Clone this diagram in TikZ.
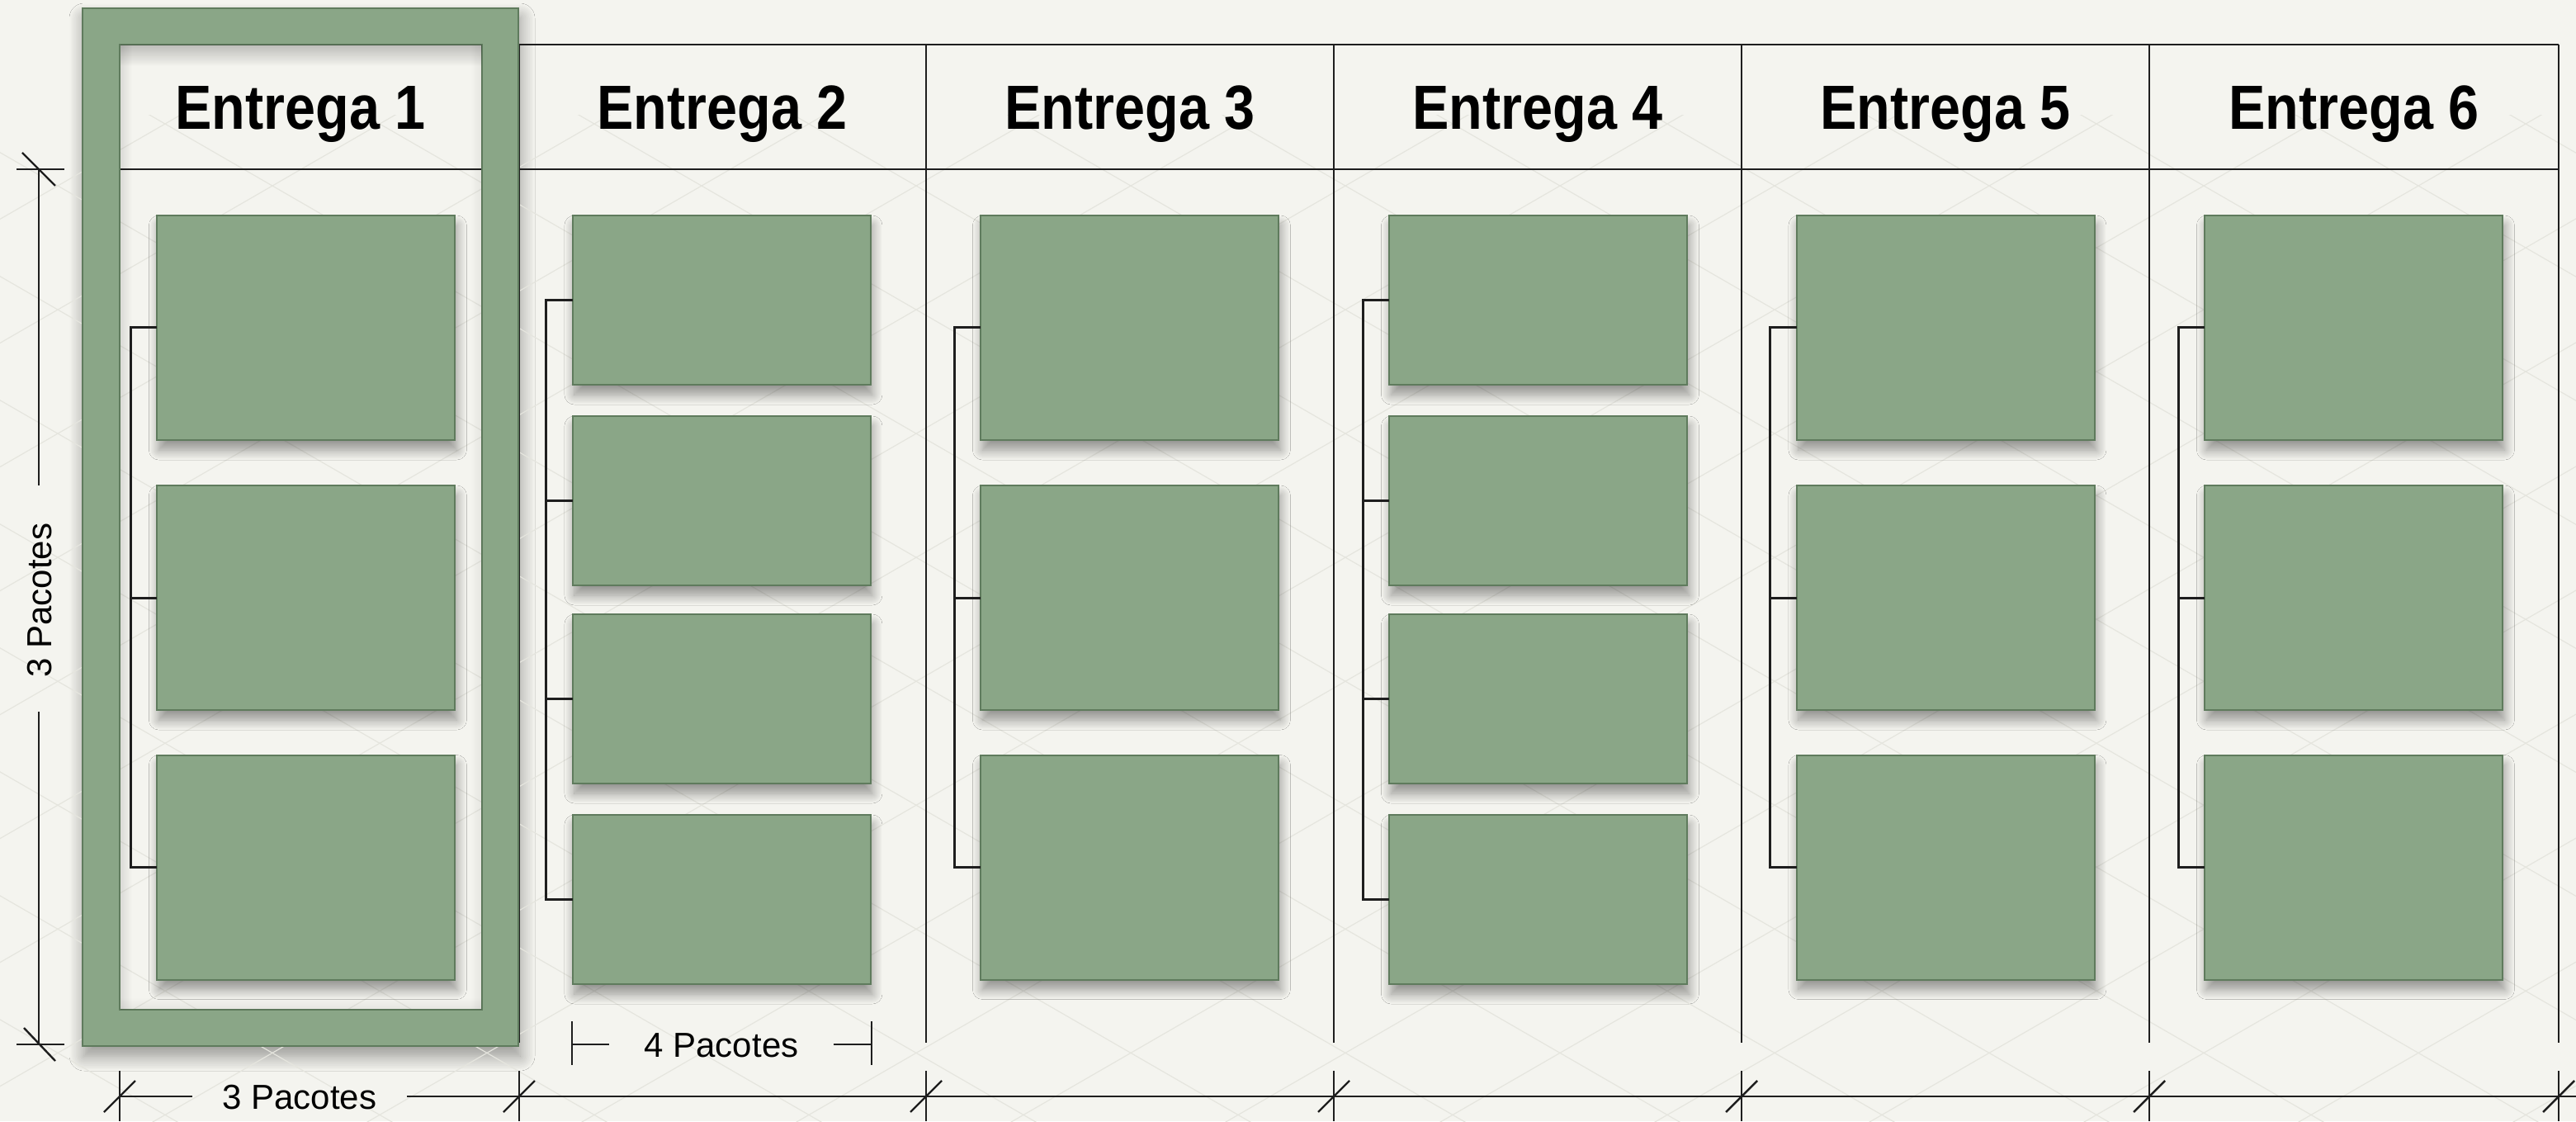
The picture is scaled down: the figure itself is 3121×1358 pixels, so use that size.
\documentclass[tikz,border=0pt]{standalone}
\usepackage{fontspec}
\setmainfont{Liberation Sans}
\usepackage{graphicx}
\usetikzlibrary{shadows.blur,fadings}
\definecolor{bg}{HTML}{F4F4EF}
\definecolor{sage}{HTML}{8AA687}
\definecolor{sagedk}{HTML}{5F7B5D}
\definecolor{ink}{HTML}{1E1E1E}
\definecolor{hatchc}{HTML}{E5E5DE}
\tikzset{
  pkgbox/.style={draw=sagedk, line width=0.5pt, fill=sage, minimum width=90.25pt,
    inner sep=0pt, outer sep=0pt,
    blur shadow={shadow xshift=0.6pt, shadow yshift=-3pt, shadow blur radius=3pt, shadow blur steps=12, shadow opacity=40}},
  pkgbig/.style={pkgbox, minimum height=68pt},
  pkgsmall/.style={pkgbox, minimum height=51.25pt},
  tbl/.style={draw=ink, line width=0.7pt},
  dimline/.style={draw=ink, line width=0.6pt},
  brk/.style={draw=ink, line width=0.75pt},
  hdr/.style={font=\fontsize{18.9pt}{20pt}\selectfont\bfseries, anchor=base, inner sep=0pt},
  dimlbl/.style={font=\fontsize{10.5pt}{12pt}\selectfont, anchor=base, inner sep=0pt},
}
\begin{document}
\begin{tikzpicture}[x=0.25pt, y=-0.25pt]
\useasboundingbox (0,0) rectangle (3121,1358);
\fill[bg] (0,0) rectangle (3121,1358);

% frame shadow
\path[blur shadow={shadow xshift=0.5pt, shadow yshift=-3pt, shadow blur radius=4.5pt, shadow blur steps=12, shadow opacity=40}] (100,10) rectangle (628,1267);
\fill[bg] (145,54) rectangle (584,1223);

% faint hatch
\begin{scope}
\clip (0,140) rectangle (3121,1358);
\foreach \c in {-2400,-2140,...,5600}{
  \draw[hatchc, line width=0.3pt] (\c,0) -- ++(2400,1385);
  \draw[hatchc, line width=0.3pt] (\c,0) -- ++(-2400,1385);
}
\end{scope}

% table lines
\draw[tbl] (629,54) -- (3100,54);
\draw[tbl] (145,205) -- (3100,205);
\foreach \x in {629,1122,1616,2110,2604,3100}{
  \draw[tbl] (\x,54) -- (\x,1263);
}

% highlight frame
\fill[sage, even odd rule] (100,10) rectangle (628,1267) (145,54) rectangle (584,1223);
\draw[sagedk, line width=0.5pt] (100,10) rectangle (628,1267);
\draw[sagedk, line width=0.5pt] (145,54) rectangle (584,1223);
% inset shadows
\fill[black, path fading=south, fill opacity=0.22] (145.5,54.5) rectangle (583.5,80);
\fill[black, path fading=east, fill opacity=0.10] (145.5,54.5) rectangle (160,1222.5);
\fill[black, path fading=west, fill opacity=0.06] (570,54.5) rectangle (583.5,1222.5);
\fill[black, path fading=north, fill opacity=0.06] (145.5,1208) rectangle (583.5,1222.5);

% headers
\node[hdr] (h1) at (364,157) {\scalebox{0.88}[1]{Entrega 1}};
\node[hdr] (h2) at (875,157) {\scalebox{0.88}[1]{Entrega 2}};
\node[hdr] (h3) at (1369,157) {\scalebox{0.88}[1]{Entrega 3}};
\node[hdr] (h4) at (1863,157) {\scalebox{0.88}[1]{Entrega 4}};
\node[hdr] (h5) at (2357,157) {\scalebox{0.88}[1]{Entrega 5}};
\node[hdr] (h6) at (2852,157) {\scalebox{0.88}[1]{Entrega 6}};

% packages: 3-box columns
\foreach \col/\cx in {1/370.5, 3/1368.5, 5/2357, 6/2851.5}{
  \node[pkgbig] (b\col a) at (\cx,397) {};
  \node[pkgbig] (b\col b) at (\cx,724) {};
  \node[pkgbig] (b\col c) at (\cx,1050.5) {};
  \draw[brk] (b\col a.west) -- +(-32,0) |- (b\col c.west);
  \draw[brk] (b\col b.west) -- +(-32,0);
}
% packages: 4-box columns
\foreach \col/\cx in {2/874, 4/1863.5}{
  \node[pkgsmall] (b\col a) at (\cx,363.5) {};
  \node[pkgsmall] (b\col b) at (\cx,606.5) {};
  \node[pkgsmall] (b\col c) at (\cx,846.5) {};
  \node[pkgsmall] (b\col d) at (\cx,1089.5) {};
  \draw[brk] (b\col a.west) -- +(-32,0) |- (b\col d.west);
  \draw[brk] (b\col b.west) -- +(-32,0);
  \draw[brk] (b\col c.west) -- +(-32,0);
}

% left vertical dimension
\coordinate (vt) at (47,205);
\coordinate (vb) at (47,1265);
\node[dimlbl, rotate=90] (vlbl) at (62,727) {3 Pacotes};
\draw[dimline] (vt) -- (47,588);
\draw[dimline] (47,862) -- (vb);
\draw[dimline] ($(vt)+(-27,0)$) -- ($(vt)+(31,0)$);
\draw[dimline] ($(vb)+(-27,0)$) -- ($(vb)+(31,0)$);
\draw[dimline] ($(vt)+(-20,-20)$) -- ($(vt)+(20,20)$);
\draw[dimline] ($(vb)+(-18,-20)$) -- ($(vb)+(20,20)$);

% bottom dimension
\node[dimlbl] (blbl) at (363,1343) {3 Pacotes};
\draw[dimline] (145,1328) -- (233,1328);
\draw[dimline] (493,1328) -- (3121,1328);
\foreach \x in {145,629,1122,1616,2110,2604,3100}{
  \draw[dimline] (\x,1297) -- (\x,1358);
  \draw[dimline] (\x-19,1347) -- (\x+19,1309);
}

% 4 Pacotes dimension
\node[dimlbl] (slbl) at (874,1280) {4 Pacotes};
\draw[dimline] (693,1237) -- (693,1290);
\draw[dimline] (1056,1237) -- (1056,1290);
\draw[dimline] (693,1265) -- (738,1265);
\draw[dimline] (1010,1265) -- (1056,1265);
\end{tikzpicture}
\end{document}
